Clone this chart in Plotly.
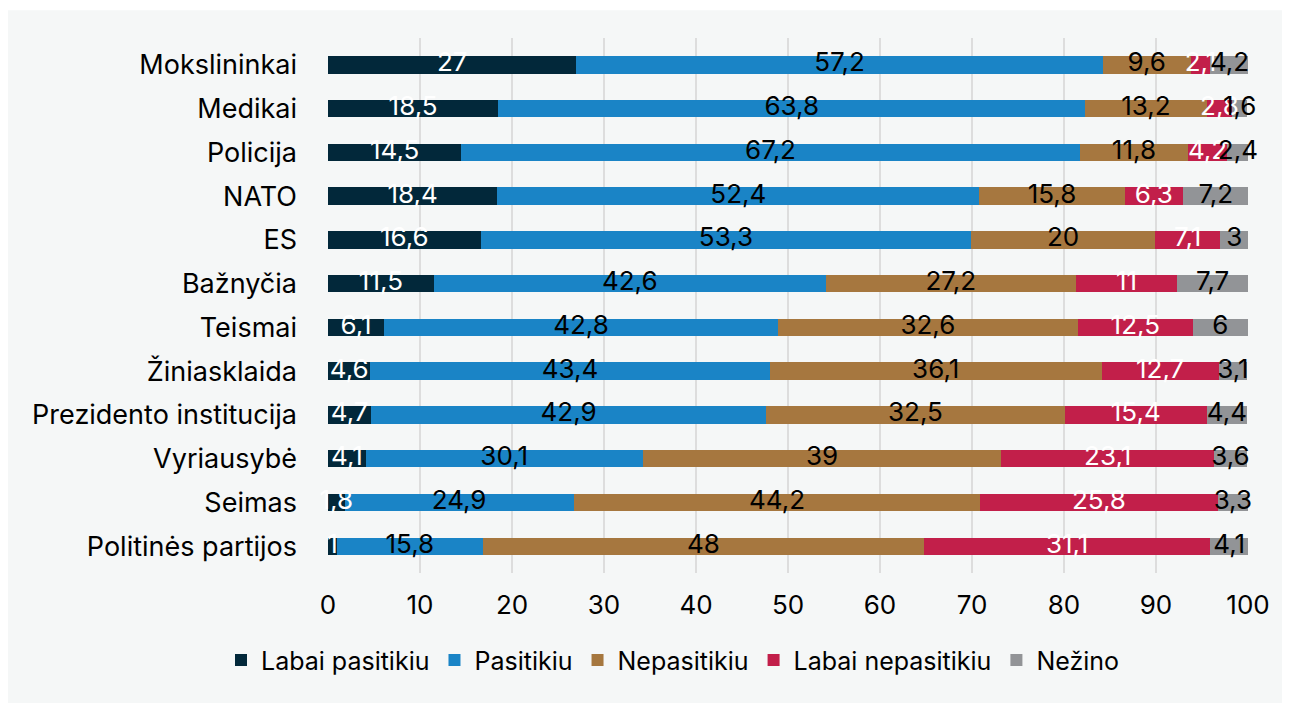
import plotly.graph_objects as go

categories = ["Mokslininkai", "Medikai", "Policija", "NATO", "ES", "Bažnyčia", "Teismai",
              "Žiniasklaida", "Prezidento institucija", "Vyriausybė", "Seimas", "Politinės partijos"]
labai_pasitikiu = [27, 18.5, 14.5, 18.4, 16.6, 11.5, 6.1, 4.6, 4.7, 4.1, 1.8, 1]
pasitikiu = [57.2, 63.8, 67.2, 52.4, 53.3, 42.6, 42.8, 43.4, 42.9, 30.1, 24.9, 15.8]
nepasitikiu = [9.6, 13.2, 11.8, 15.8, 20, 27.2, 32.6, 36.1, 32.5, 39, 44.2, 48]
labai_nepasitikiu = [2.1, 2.8, 4.2, 6.3, 7.1, 11, 12.5, 12.7, 15.4, 23.1, 25.8, 31.1]
nezino = [4.2, 1.6, 2.4, 7.2, 3, 7.7, 6, 3.1, 4.4, 3.6, 3.3, 4.1]
x_ticks = [0, 10, 20, 30, 40, 50, 60, 70, 80, 90, 100]

series = [
    ("Labai pasitikiu", labai_pasitikiu, "#02283a", "white"),
    ("Pasitikiu", pasitikiu, "#1a84c6", "black"),
    ("Nepasitikiu", nepasitikiu, "#a6773f", "black"),
    ("Labai nepasitikiu", labai_nepasitikiu, "#c21f4a", "white"),
    ("Nežino", nezino, "#929497", "black"),
]

FONT = "Inter"

def fmt(v):
    return ("%g" % v).replace(".", ",")

fig = go.Figure()
for name, vals, color, tcol in series:
    fig.add_trace(go.Bar(
        y=categories, x=vals, name=name, orientation="h",
        marker=dict(color=color, line=dict(width=0)),
        textposition="none", hoverinfo="x+name",
    ))

# labels centred in each segment (computed from the data arrays)
base = [0.0] * len(categories)
for name, vals, color, tcol in series:
    mids = [b + v / 2 for b, v in zip(base, vals)]
    fig.add_trace(go.Scatter(
        x=mids, y=categories, mode="text", text=[fmt(v) for v in vals],
        textposition="middle center", showlegend=False, hoverinfo="skip",
        textfont=dict(color=tcol, size=26, family=FONT), cliponaxis=False,
    ))
    base = [b + v for b, v in zip(base, vals)]

fig.update_layout(
    barmode="stack",
    bargap=0.6,
    width=1274, height=695,
    paper_bgcolor="white",
    plot_bgcolor="#f5f7f7",
    margin=dict(l=320, r=34, t=30, b=130),
    font=dict(family=FONT, size=26, color="black"),
    legend=dict(orientation="h", x=0.375, xanchor="center", y=-0.163, yanchor="middle",
                font=dict(size=25), itemwidth=30, traceorder="normal",
                bgcolor="rgba(0,0,0,0)"),
    xaxis=dict(range=[0, 100], tickvals=x_ticks, showgrid=True, gridcolor="#dddddd",
               gridwidth=1.5, zeroline=False, ticks="", tickfont=dict(size=26),
               ticklabelstandoff=14),
    yaxis=dict(autorange="reversed", categoryorder="array", categoryarray=categories,
               ticks="", tickfont=dict(size=27), ticklabelstandoff=30),
    shapes=[dict(type="rect", xref="paper", yref="paper", x0=-0.35, x1=1.05, y0=-0.245, y1=1.052,
                 fillcolor="#f5f7f7", line=dict(width=0), layer="below")],
)
fig.write_html("out.html")
